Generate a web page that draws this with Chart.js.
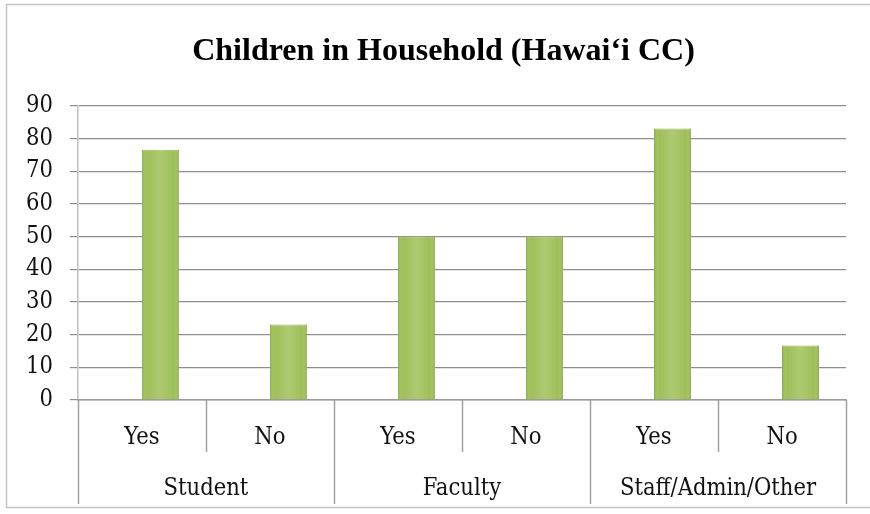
<!DOCTYPE html>
<html>
<head>
<meta charset="utf-8">
<title>Children in Household</title>
<script src="https://cdn.jsdelivr.net/npm/chart.js@4/dist/chart.umd.min.js"></script>
<style>
  html, body { margin: 0; padding: 0; background: #fff; }
  #wrap { width: 870px; height: 514px; }
</style>
</head>
<body>
<div id="wrap"><canvas id="chartHogar"></canvas></div>
<script>
// answers per group, in the order Student, Faculty, Staff/Admin/Other
const groups = ["Student", "Faculty", "Staff/Admin/Other"];
const answers = ["Yes", "No", "Yes", "No", "Yes", "No"];
const percent = [76.6, 23.1, 50, 50, 83.1, 16.6];
const yTicks = [0, 10, 20, 30, 40, 50, 60, 70, 80, 90];

const serif = "'DejaVu Serif Condensed', 'DejaVu Serif', serif";
const gridGray = "#8f8f8f";

// white page and the thin frame round the chart
const frame = {
  id: "frame",
  beforeDraw: (chart) => {
    const { ctx, width, height } = chart;
    ctx.save();
    ctx.fillStyle = "#fff";
    ctx.fillRect(0, 0, width, height);
    ctx.strokeStyle = "#c4c4c4";
    ctx.lineWidth = 1.5;
    ctx.strokeRect(6.5, 4.5, width, height - 2 * 4.5 - 2);
    ctx.restore();
  },
};

// soft lighter strip down the middle of each bar
const bevel = {
  id: "bevel",
  afterDatasetsDraw: (chart) => {
    const { ctx } = chart;
    const meta = chart.getDatasetMeta(1);
    ctx.save();
    meta.data.forEach((bar) => {
      const left = bar.x - bar.width / 2;
      const g = ctx.createLinearGradient(left, 0, left + bar.width, 0);
      g.addColorStop(0, "rgba(120,150,55,0.3)");
      g.addColorStop(0.15, "rgba(255,255,255,0)");
      g.addColorStop(0.5, "rgba(235,245,200,0.2)");
      g.addColorStop(0.85, "rgba(255,255,255,0)");
      g.addColorStop(1, "rgba(120,150,55,0.3)");
      ctx.fillStyle = g;
      ctx.fillRect(left, bar.y, bar.width, bar.base - bar.y);
    });
    ctx.restore();
  },
};

// vertical separators of the two-level category axis
const separadores = {
  id: "separadores",
  afterDraw: (chart) => {
    const { ctx } = chart;
    const x = chart.scales.x;
    const x2 = chart.scales.x2;
    const paso = x.width / answers.length;
    ctx.save();
    ctx.strokeStyle = "#a0a0a0";
    ctx.lineWidth = 1.5;
    for (let i = 0; i <= answers.length; i++) {
      const px = Math.round(x.left + i * paso) + 0.5;
      const fin = i % 2 === 0 ? x2.bottom : x.bottom;
      ctx.beginPath();
      ctx.moveTo(px, x.top);
      ctx.lineTo(px, fin);
      ctx.stroke();
    }
    ctx.restore();
  },
};

const myChart = new Chart(document.getElementById("chartHogar"), {
  type: "bar",
  data: {
    labels: answers,
    datasets: [
      {
        label: "",
        data: [],
      },
      {
        label: "Children in Household",
        data: percent,
        backgroundColor: "#9dbf58",
        borderColor: "#93b54f",
        borderWidth: 1,
      },
    ],
  },
  plugins: [frame, bevel, separadores],
  options: {
    responsive: true,
    maintainAspectRatio: false,
    animation: false,
    categoryPercentage: 0.578,
    barPercentage: 1,
    layout: {
      padding: { left: 9, right: 24, top: 0, bottom: 10 },
    },
    scales: {
      y: {
        min: 0,
        max: 90,
        afterBuildTicks: (scale) => {
          scale.ticks = yTicks.map((v) => ({ value: v }));
        },
        grid: {
          color: gridGray,
          lineWidth: 1.2,
          tickLength: 8,
        },
        border: { color: "#c0c0c0", width: 1.5 },
        ticks: {
          padding: 17,
          color: "#111",
          font: { family: serif, size: 23.5 },
        },
      },
      x: {
        weight: 0,
        grid: {
          drawOnChartArea: false,
          color: "transparent",
          tickLength: 24,
        },
        border: { color: "#9a9a9a", width: 1.5 },
        ticks: {
          padding: 0,
          autoSkip: false,
          maxRotation: 0,
          color: "#111",
          font: { family: serif, size: 23.5 },
        },
      },
      x2: {
        type: "category",
        labels: groups,
        position: "bottom",
        offset: true,
        weight: 1,
        grid: {
          offset: true,
          drawOnChartArea: false,
          color: "transparent",
          tickLength: 22,
        },
        border: { display: false },
        ticks: {
          padding: 0.9,
          autoSkip: false,
          maxRotation: 0,
          color: "#111",
          font: { family: serif, size: 23.5 },
        },
      },
    },
    plugins: {
      legend: { display: false },
      tooltip: { enabled: false },
      title: {
        display: true,
        // leading spaces nudge the centred title a little to the right
        text: "\u00a0\u00a0\u00a0\u00a0Children in Household (Hawai‘i CC)",
        color: "#000",
        font: { family: "'Liberation Serif', 'Times New Roman', serif", size: 32, weight: "bold" },
        padding: { top: 33, bottom: 34.6 },
      },
    },
  },
});
</script>
</body>
</html>
